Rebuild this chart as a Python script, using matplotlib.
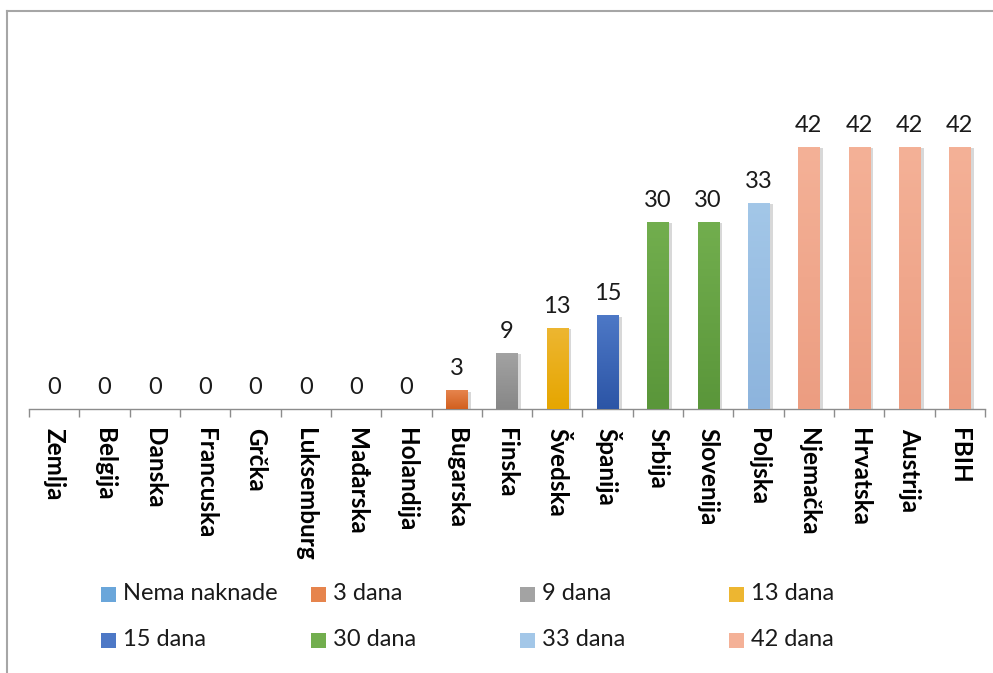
import matplotlib
matplotlib.use("Agg")
import matplotlib.pyplot as plt
import matplotlib.patheffects as pe
from matplotlib.patches import Rectangle
from matplotlib.lines import Line2D
from matplotlib.colors import to_rgb
import numpy as np

plt.rcParams['font.family'] = ['Lato', 'DejaVu Sans']

countries = ["Zemlja", "Belgija", "Danska", "Francuska", "Grčka", "Luksemburg",
             "Mađarska", "Holandija", "Bugarska", "Finska", "Švedska", "Španija",
             "Srbija", "Slovenija", "Poljska", "Njemačka", "Hrvatska", "Austrija", "FBIH"]
days = [0, 0, 0, 0, 0, 0, 0, 0, 3, 9, 13, 15, 30, 30, 33, 42, 42, 42, 42]
groups = ["Nema naknade"] * 8 + ["3 dana", "9 dana", "13 dana", "15 dana",
                                 "30 dana", "30 dana", "33 dana",
                                 "42 dana", "42 dana", "42 dana", "42 dana"]

legend_labels = ["Nema naknade", "3 dana", "9 dana", "13 dana",
                 "15 dana", "30 dana", "33 dana", "42 dana"]
# (top, bottom) gradient colours per group
palette = {
    "Nema naknade": ("#6AA6DA", "#4F8CC9"),
    "3 dana": ("#E6844D", "#D2601F"),
    "9 dana": ("#A3A3A3", "#878787"),
    "13 dana": ("#EDB631", "#E6A600"),
    "15 dana": ("#4D78C6", "#2C55A6"),
    "30 dana": ("#72AE4E", "#5A963A"),
    "33 dana": ("#A3C7E8", "#8DB4DD"),
    "42 dana": ("#F4B197", "#EC9D81"),
}

fig = plt.figure(figsize=(9.93, 6.73), dpi=100)
ax = fig.add_axes([0.0292, 0.3923, 0.9627, 0.4175])

x = np.arange(len(countries))
face = [palette[g][0] for g in groups]
bars = ax.bar(x, days, width=0.42, color=face, zorder=2)

shadow = [pe.SimplePatchShadow(offset=(2.5, -1), shadow_rgbFace="#7f7f7f", alpha=0.3),
          pe.Normal()]
for bar, g in zip(bars, groups):
    h = bar.get_height()
    if h <= 0:
        continue
    bar.set_path_effects(shadow)
    top, bottom = np.array(to_rgb(palette[g][0])), np.array(to_rgb(palette[g][1]))
    t = np.linspace(0, 1, 64)[:, None]
    grad = (top * (1 - t) + bottom * t)[:, None, :]
    im = ax.imshow(grad, extent=(bar.get_x(), bar.get_x() + bar.get_width(), 0, h),
                   aspect='auto', zorder=3, interpolation='bilinear')
    im.set_clip_path(bar)

ax.bar_label(bars, labels=[str(v) for v in days], padding=8, fontsize=17, color="#1a1a1a")

ax.set_xlim(-0.5, len(countries) - 0.5)
ax.set_ylim(0, 45)
ax.set_yticks([])
for s in ("top", "right", "left"):
    ax.spines[s].set_visible(False)
ax.spines["bottom"].set_color("#8c8c8c")
ax.spines["bottom"].set_linewidth(1.0)

ax.set_xticks(x)
ax.set_xticklabels(countries, rotation=-90, fontsize=17.5, fontweight="bold",
                   va="top", ha="center")
ax.tick_params(axis="x", length=0, pad=14)
ax.set_xticks(np.arange(-0.5, len(countries)), minor=True)
ax.tick_params(axis="x", which="minor", length=6, color="#8c8c8c", width=1.0)

# legend laid out on an even 4-column grid
col_x = [101, 311, 520, 729]
row_y = [594, 640]
W, H = 993.0, 673.0
for i, lab in enumerate(legend_labels):
    cx, cy = col_x[i % 4], row_y[i // 4]
    fig.patches.append(Rectangle((cx / W, (H - cy - 7.5) / H), 15 / W, 15 / H,
                                 transform=fig.transFigure,
                                 facecolor=palette[lab][0], edgecolor="none"))
    fig.text((cx + 22) / W, (H - cy) / H, lab, fontsize=17, va="center", ha="left",
             color="#1a1a1a")

# outer frame
frame_kw = dict(transform=fig.transFigure, color="#a6a6a6", linewidth=1.5)
fig.lines.append(Line2D([7 / W, 7 / W], [0, (H - 11) / H], **frame_kw))
fig.lines.append(Line2D([7 / W, 1], [(H - 11) / H, (H - 11) / H], **frame_kw))

fig.savefig("out.png", dpi=100)
